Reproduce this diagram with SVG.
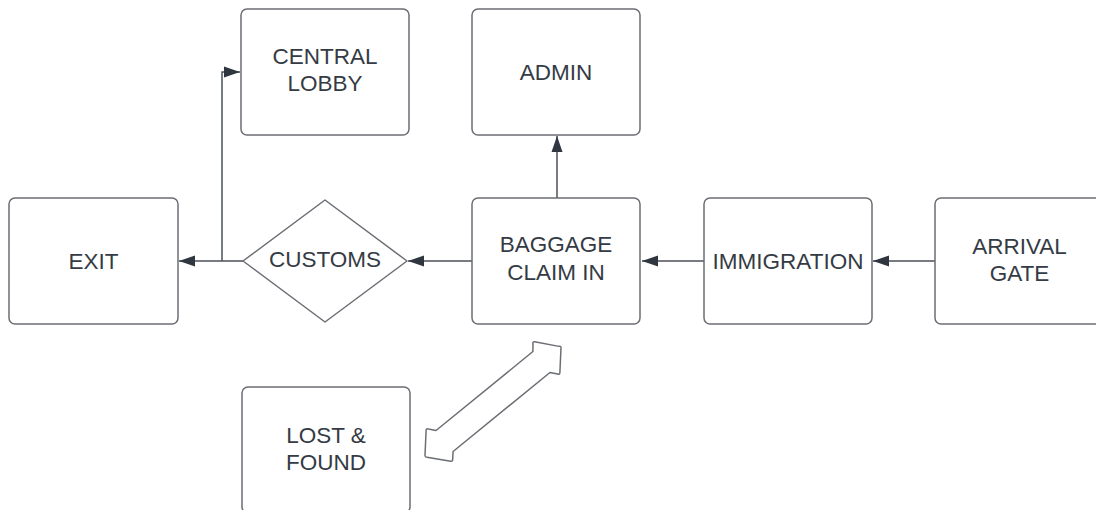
<svg xmlns="http://www.w3.org/2000/svg" width="1096" height="510" viewBox="0 0 1096 510">
  <style>
    .box { fill: #ffffff; stroke: #6b6e74; stroke-width: 1.5; }
    .lbl { font-family: "Liberation Sans", Arial, sans-serif; font-size: 22.5px; fill: #353b44; text-anchor: middle; }
    .wire { fill: none; stroke: #4b5059; stroke-width: 1.5; }
    .dbl { fill: #ffffff; stroke: #6b6e74; stroke-width: 1.5; stroke-linejoin: round; }
  </style>
  <defs>
    <marker id="head" markerUnits="userSpaceOnUse" markerWidth="18" markerHeight="14" viewBox="0 0 18 14" refX="17" refY="7" orient="auto">
      <path d="M1,1.5 L17,7 L1,12.5 Z" fill="#2f3640"/>
    </marker>
  </defs>
  <rect width="1096" height="510" fill="#ffffff"/>

  <!-- connectors -->
  <g id="connectors">
    <line class="wire" x1="935" y1="261" x2="873" y2="261" marker-end="url(#head)"/>
    <line class="wire" x1="704" y1="261" x2="642" y2="261" marker-end="url(#head)"/>
    <line class="wire" x1="472" y1="261" x2="408" y2="261" marker-end="url(#head)"/>
    <line class="wire" x1="243" y1="261" x2="179" y2="261" marker-end="url(#head)"/>
    <polyline class="wire" points="222,261 222,72 240,72" marker-end="url(#head)"/>
    <line class="wire" x1="557" y1="198" x2="557" y2="136" marker-end="url(#head)"/>
    <!-- two-way block arrow between baggage claim and lost & found -->
    <path class="dbl" transform="translate(493,401.5) rotate(-39.2)"
          d="M86,-1 Q88,0 86.5,1.5 L70,20 Q68.5,21.5 67.5,19.5 L62.5,13.5 L-62.5,13.5 L-68,19.5 Q-69,21 -70.5,19.5 L-86.5,1.5 Q-88,0 -86.5,-1.5 L-70,-20 Q-68.5,-21.5 -67.5,-19.5 L-62.5,-13.5 L62.5,-13.5 L67.5,-19.5 Q68.5,-21.5 70,-20 Z"/>
  </g>

  <g id="central-lobby">
    <rect class="box" x="241" y="9" width="168" height="126" rx="6"/>
    <text class="lbl" x="325" y="64">CENTRAL</text>
    <text class="lbl" x="325" y="91">LOBBY</text>
  </g>

  <g id="admin">
    <rect class="box" x="472" y="9" width="168" height="126" rx="6"/>
    <text class="lbl" x="556" y="80">ADMIN</text>
  </g>

  <g id="exit">
    <rect class="box" x="9" y="198" width="169" height="126" rx="6"/>
    <text class="lbl" x="93.5" y="268.5">EXIT</text>
  </g>

  <g id="customs">
    <path class="box" stroke-linejoin="round" d="M243,261 L325,200 L407,261 L325,322 Z"/>
    <text class="lbl" x="325" y="267">CUSTOMS</text>
  </g>

  <g id="baggage-claim">
    <rect class="box" x="472" y="198" width="168" height="126" rx="6"/>
    <text class="lbl" x="556" y="252">BAGGAGE</text>
    <text class="lbl" x="556" y="279.5">CLAIM IN</text>
  </g>

  <g id="immigration">
    <rect class="box" x="704" y="198" width="168" height="126" rx="6"/>
    <text class="lbl" x="788" y="268.5">IMMIGRATION</text>
  </g>

  <g id="arrival-gate">
    <rect class="box" x="935" y="198" width="168" height="126" rx="6"/>
    <text class="lbl" x="1019.5" y="253.5">ARRIVAL</text>
    <text class="lbl" x="1019.5" y="280.5">GATE</text>
  </g>

  <g id="lost-found">
    <rect class="box" x="242" y="387" width="168" height="126" rx="6"/>
    <text class="lbl" x="326" y="443">LOST &amp;</text>
    <text class="lbl" x="326" y="469.5">FOUND</text>
  </g>
</svg>
